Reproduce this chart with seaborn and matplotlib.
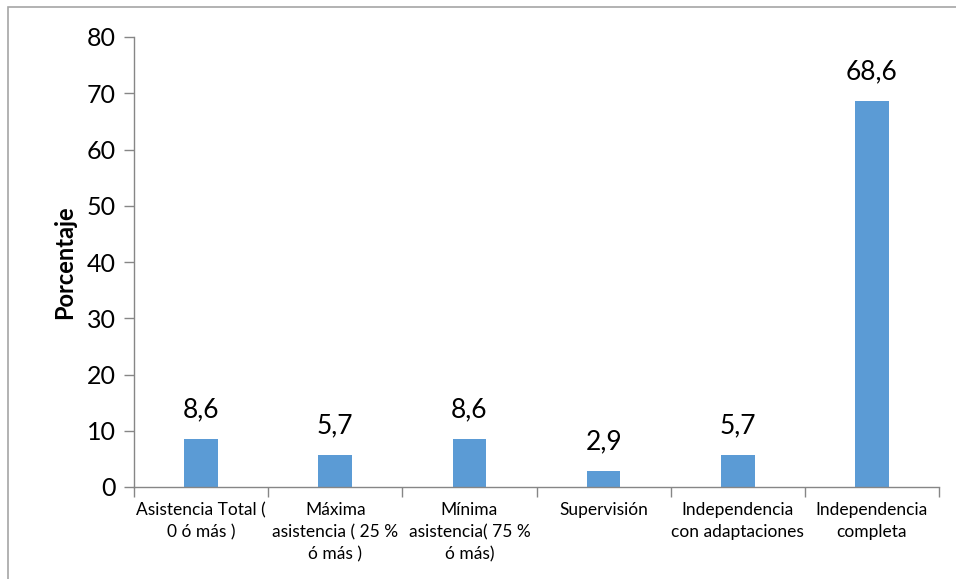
import matplotlib
matplotlib.use("Agg")
import matplotlib.pyplot as plt
import seaborn as sns
import pandas as pd
from matplotlib.patches import Rectangle

categories = [
    "Asistencia Total (\n0 ó más )",
    "Máxima\nasistencia ( 25 %\nó más )",
    "Mínima\nasistencia( 75 %\nó más)",
    "Supervisión",
    "Independencia\ncon adaptaciones",
    "Independencia\ncompleta",
]
values = [8.6, 5.7, 8.6, 2.9, 5.7, 68.6]
value_labels = ["8,6", "5,7", "8,6", "2,9", "5,7", "68,6"]
yticks = [0, 10, 20, 30, 40, 50, 60, 70, 80]

sns.set_theme(style="white")
plt.rcParams["font.family"] = ["Lato", "DejaVu Sans"]

df = pd.DataFrame({"cat": categories, "val": values})

fig = plt.figure(figsize=(9.56, 5.79), dpi=100)
ax = fig.add_axes([134 / 956, 1 - 487 / 579, (939 - 134) / 956, (487 - 37) / 579])

sns.barplot(data=df, x="cat", y="val", color="#5B9BD5", width=0.25,
            saturation=1, ax=ax, edgecolor="none")

ax.set_xlim(-0.5, 5.5)
ax.set_ylim(0, 80)
ax.set_yticks(yticks)
ax.set_yticklabels([str(t) for t in yticks], fontsize=18, color="black")

ax.set_xticks(range(len(categories)))
ax.set_xticklabels(categories, fontsize=12.5, color="black", linespacing=1.45)
ax.tick_params(axis="x", which="major", length=0, pad=11)
ax.set_xticks([i - 0.5 for i in range(len(categories) + 1)], minor=True)
ax.tick_params(axis="x", which="minor", length=7, width=1, color="#868686", direction="out", bottom=True)
ax.tick_params(axis="y", length=7, width=1, color="#868686", direction="out", left=True, pad=6)

for s in ["top", "right"]:
    ax.spines[s].set_visible(False)
for s in ["left", "bottom"]:
    ax.spines[s].set_color("#868686")
    ax.spines[s].set_linewidth(1)

ax.set_xlabel("")
ax.set_ylabel("Porcentaje", fontsize=17, fontweight="bold", color="black", labelpad=8)

ax.bar_label(ax.containers[0], labels=value_labels, fontsize=19, padding=12, color="black")

fig.patches.append(Rectangle((8 / 956, -0.1), 1.2, 1 - 7 / 579 + 0.1, transform=fig.transFigure,
                             fill=False, edgecolor="#A6A6A6", linewidth=1.2, zorder=0))

fig.savefig("out.png", dpi=100, facecolor="white")
